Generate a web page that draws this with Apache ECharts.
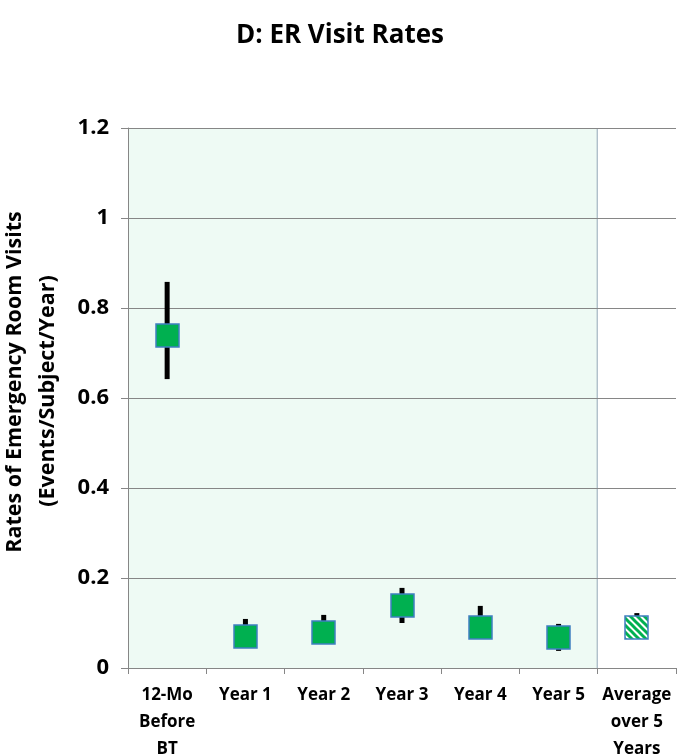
<!DOCTYPE html>
<html><head><meta charset="utf-8">
<script src="https://cdn.jsdelivr.net/npm/echarts@6/dist/echarts.min.js"></script>
<style>html,body{margin:0;padding:0;background:#fff}#c{width:680px;height:756px}</style>
</head><body><div id="c"></div>
<script>
var categories = ['12-Mo\nBefore\nBT', 'Year 1', 'Year 2', 'Year 3', 'Year 4', 'Year 5', 'Average\nover 5\nYears'];
var rates = [0.74, 0.07, 0.079, 0.139, 0.089, 0.068, 0.09];
var lower = [0.642, 0.049, 0.058, 0.10, 0.069, 0.038, 0.067];
var upper = [0.858, 0.109, 0.118, 0.178, 0.138, 0.098, 0.122];
var yTicks = [0, 0.2, 0.4, 0.6, 0.8, 1, 1.2];
var shadedCount = 6;

var FONT = '"Open Sans", Lato, sans-serif';
var T = 7;
var pc = document.createElement('canvas');
pc.width = T; pc.height = T;
var g = pc.getContext('2d');
g.fillStyle = '#ffffff'; g.fillRect(0, 0, T, T);
g.strokeStyle = '#00B050'; g.lineWidth = 3;
for (var k = -2; k <= 2; k++) {
  g.beginPath(); g.moveTo(k * T - T, -T); g.lineTo(k * T + 2 * T, 2 * T); g.stroke();
}
var hatch = { image: pc, repeat: 'repeat' };

var chart = echarts.init(document.getElementById('c'));
var errData = categories.map(function (c, i) { return [i, lower[i], upper[i]]; });
var ptData = categories.map(function (c, i) { return [i, rates[i]]; });
var SZ = 23;

chart.setOption({
  animation: false,
  title: {
    text: 'D: ER Visit Rates', left: 'center', top: 18,
    textStyle: { fontFamily: FONT, fontWeight: 'bold', fontSize: 26, color: '#000' }
  },
  grid: { left: 128, right: 4, top: 128, bottom: 88, outerBoundsMode: 'none', containLabel: false },
  xAxis: [{
    type: 'category', data: categories,
    axisLine: { lineStyle: { color: '#868686', width: 1 } },
    axisTick: { show: true, length: 6, lineStyle: { color: '#868686' } },
    axisLabel: { interval: 0, margin: 14, fontFamily: FONT, fontWeight: 'bold', fontSize: 17, lineHeight: 27, color: '#000' },
    splitLine: { show: false }
  }, {
    type: 'value', min: 0, max: categories.length, show: false
  }],
  yAxis: {
    type: 'value', min: yTicks[0], max: yTicks[yTicks.length - 1], interval: 0.2,
    axisLine: { show: true, lineStyle: { color: '#868686', width: 1 } },
    axisTick: { show: true, length: 7, lineStyle: { color: '#868686' } },
    axisLabel: { margin: 19, fontFamily: FONT, fontWeight: 'bold', fontSize: 22, color: '#000',
      formatter: function (v) { return String(Math.round(v * 10) / 10); } },
    splitLine: { show: true, lineStyle: { color: '#868686', width: 1 } }
  },
  graphic: [{
    type: 'text', rotation: Math.PI / 2, x: 15, y: 382,
    style: { text: 'Rates of Emergency Room Visits', fontFamily: FONT, fontWeight: 'bold', fontSize: 21.5, fill: '#000', align: 'center', verticalAlign: 'middle' }
  }, {
    type: 'text', rotation: Math.PI / 2, x: 48, y: 391,
    style: { text: '(Events/Subject/Year)', fontFamily: FONT, fontWeight: 'bold', fontSize: 21.5, fill: '#000', align: 'center', verticalAlign: 'middle' }
  }],
  series: [{
    type: 'custom', xAxisIndex: 1, z: -1, silent: true,
    data: [[0, shadedCount, yTicks[0], yTicks[yTicks.length - 1]]],
    renderItem: function (params, api) {
      var p0 = api.coord([api.value(0), api.value(3)]);
      var p1 = api.coord([api.value(1), api.value(2)]);
      return {
        type: 'group', children: [{
          type: 'rect', shape: { x: p0[0], y: p0[1], width: p1[0] - p0[0], height: p1[1] - p0[1] },
          style: { fill: '#EEFAF4' }
        }, {
          type: 'line', shape: { x1: p1[0] - 0.5, y1: p0[1], x2: p1[0] - 0.5, y2: p1[1] },
          style: { stroke: '#95A7B8', lineWidth: 1 }
        }]
      };
    }
  }, {
    type: 'custom', z: 2, silent: true, data: errData,
    renderItem: function (params, api) {
      var a = api.coord([api.value(0), api.value(1)]);
      var b = api.coord([api.value(0), api.value(2)]);
      return { type: 'line', shape: { x1: a[0], y1: a[1], x2: b[0], y2: b[1] }, style: { stroke: '#000', lineWidth: 5 } };
    }
  }, {
    type: 'custom', z: 3, silent: true, data: ptData,
    renderItem: function (params, api) {
      var p = api.coord([api.value(0), api.value(1)]);
      var isAvg = params.dataIndex === categories.length - 1;
      return {
        type: 'rect',
        shape: { x: Math.round(p[0] - SZ / 2), y: Math.round(p[1] - SZ / 2), width: SZ, height: SZ },
        style: { fill: isAvg ? hatch : '#00B050', stroke: '#3F7FC0', lineWidth: 1.5 }
      };
    }
  }]
});
</script></body></html>
